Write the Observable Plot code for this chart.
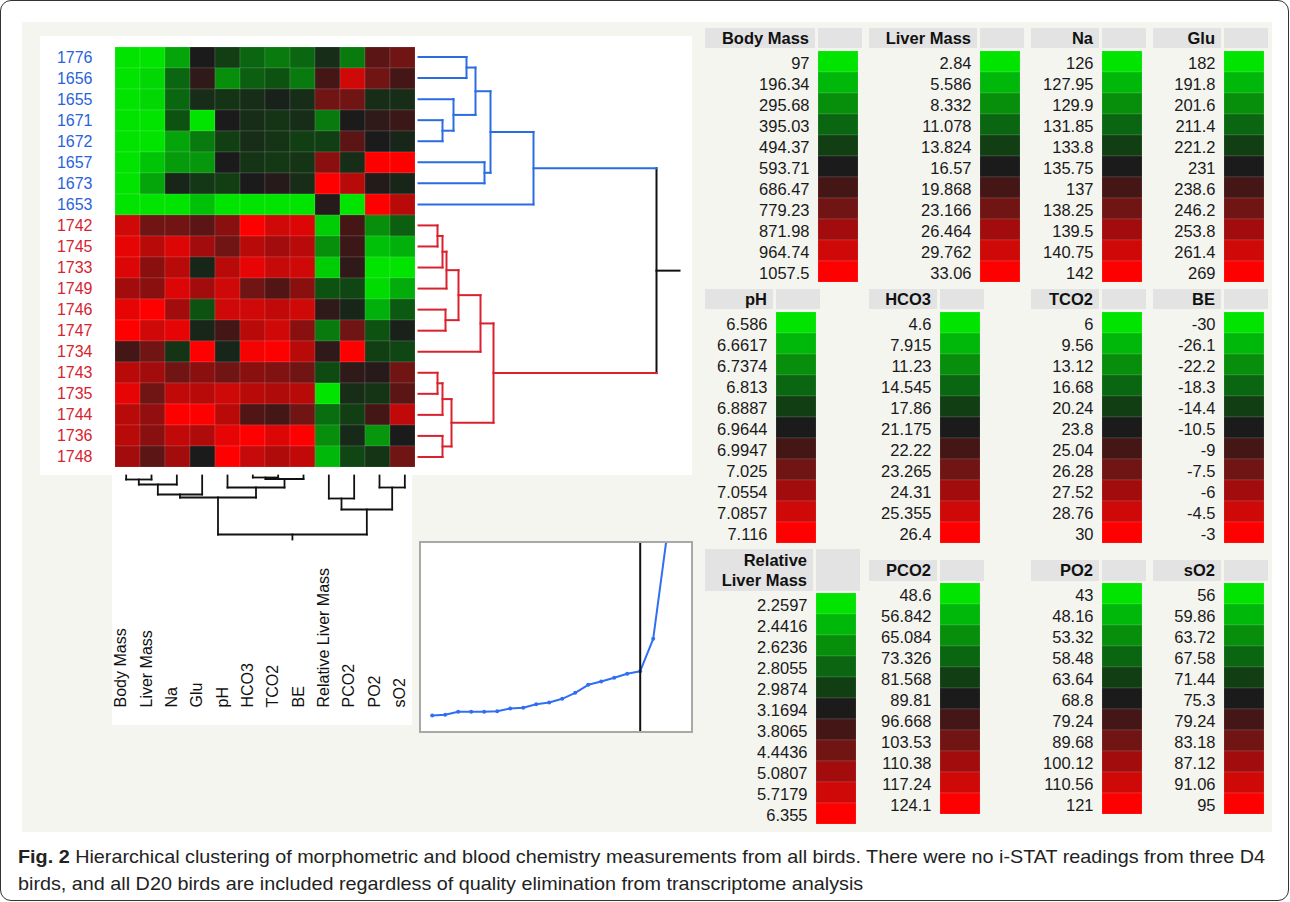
<!DOCTYPE html>
<html><head><meta charset="utf-8">
<script src="https://cdn.jsdelivr.net/npm/d3@7"></script>
<script src="https://cdn.jsdelivr.net/npm/@observablehq/plot@0.6"></script>
<style>
body{margin:0;background:#fff;font-family:"Liberation Sans",Arial,sans-serif;}
#root{position:relative;width:1290px;height:902px;overflow:hidden;}
.hdr{position:absolute;background:#e3e3e3;font-weight:bold;font-size:16.5px;color:#111;text-align:right;box-sizing:border-box;padding-right:6px;}
.cap{position:absolute;left:18px;white-space:nowrap;font-family:"Liberation Sans Narrow","Liberation Sans",Arial,sans-serif;font-size:19px;color:#222;transform-origin:0 0;}
</style></head><body><div id="root"></div>
<script>
// ---------------- data ----------------
const blueBirds = ["1776","1656","1655","1671","1672","1657","1673","1653"];
const redBirds = ["1742","1745","1733","1749","1746","1747","1734","1743","1735","1744","1736","1748"];
const birds = [...blueBirds, ...redBirds];
const variables = ["Body Mass","Liver Mass","Na","Glu","pH","HCO3","TCO2","BE","Relative Liver Mass","PCO2","PO2","sO2"];
// colour level (0 = min/green, 5 = black, 10 = max/red), one row per bird, one column per variable
const heatLevels = [
  [0,0,1.5,5,4,3,2.5,3,4.5,2.5,6.5,7],
  [0,0.3,3,5.5,2,3.2,3.5,2.5,6,9,7,6],
  [0,0.3,3,4.5,4.3,4.5,4.8,4.5,7,7,4.5,4.5],
  [0,0,3.5,0,5,4.5,4.3,4.5,2.5,5,5.5,5.8],
  [0,0,1.5,2.5,4,4.5,4.3,4,4,6.5,5,4.7],
  [0,0.7,1.7,1.8,5,4.3,4.2,4.3,7.5,4.5,10,10],
  [0,1.5,4.7,4.2,4,5,5.3,4.5,10,8.5,5.2,4.7],
  [0,0,0,0.8,0,0,0,0,5.3,0,10,8.5],
  [9,7,7,6.5,7.5,10,9,9.3,0.5,6,2,3.2],
  [9.5,8.5,9.3,8,7,8.5,8,8.5,2,5.8,0.8,1.2],
  [9.3,7.5,8.5,4.7,8.5,9.5,8.8,9,0.5,5.5,0,0],
  [8,7.5,9.3,8,9,7,6.3,7.5,3.5,3.8,0.2,1.3],
  [9.5,10,8,3.5,9,9,8.7,9,5.5,4.7,1.2,3.3],
  [10,9,9.5,4.7,6,8.5,9,7.5,2.5,7,3.5,4.8],
  [6,7,4.3,10,4.7,9.8,10,8.5,5.5,10,4,3.8],
  [8.5,8,7,7.5,7,7.5,7.3,7,3.7,5.5,5.3,7],
  [9.5,7,8.7,8.5,9,8.5,8.3,8.5,0,4.5,4.3,6.5],
  [8.5,7.7,10,10,8.5,6.3,6,7,2.8,4,6,8.7],
  [8.5,7.5,8.7,8.3,9.5,10,9.3,10,2,4.6,1.8,5],
  [8,6.5,8,5,10,8.8,8.3,8.7,1,3.8,4.3,7]
];
// row clustering: [childA, childB, merge height]; "nK" = K-th merge
const rowLinkage = [
  ["1671","1672",24],["1655","n0",35],["1776","1656",48],["n2","n1",57],
  ["1657","1673",66],["n3","n4",72],["n5","1653",115],
  ["1742","1745",19],["n7","1733",24],["n8","1749",28],["1746","1747",27],
  ["n9","n10",40],["n11","1734",62],["1743","1735",19],["n13","1744",24],
  ["1736","1748",24],["n14","n15",33],["n12","n16",75],["n6","n17",238]
];
const rowRootStub = 261;
// column clustering
const colLinkage = [
  ["HCO3","TCO2",2],["n0","BE",3.5],["Body Mass","Liver Mass",4],["n2","Na",9],
  ["pH","n1",12],["PO2","sO2",12],["n3","Glu",19],["n6","n4",22],
  ["Relative Liver Mass","PCO2",23],["n8","n5",34],["n7","n9",59]
];
const colRootStub = 64;
// merge distance by step (inset plot)
const mergeDistance = [14,14.7,17.7,17.7,17.7,18.3,21,21.7,25.3,27,30.7,36.7,44.7,48,51.7,55.7,58.3,90.7,188];
const cutStep = 16;
// legend tick labels
const bodyMassTicks = ["97","196.34","295.68","395.03","494.37","593.71","686.47","779.23","871.98","964.74","1057.5"];
const liverMassTicks = ["2.84","5.586","8.332","11.078","13.824","16.57","19.868","23.166","26.464","29.762","33.06"];
const naTicks = ["126","127.95","129.9","131.85","133.8","135.75","137","138.25","139.5","140.75","142"];
const gluTicks = ["182","191.8","201.6","211.4","221.2","231","238.6","246.2","253.8","261.4","269"];
const phTicks = ["6.586","6.6617","6.7374","6.813","6.8887","6.9644","6.9947","7.025","7.0554","7.0857","7.116"];
const hco3Ticks = ["4.6","7.915","11.23","14.545","17.86","21.175","22.22","23.265","24.31","25.355","26.4"];
const tco2Ticks = ["6","9.56","13.12","16.68","20.24","23.8","25.04","26.28","27.52","28.76","30"];
const beTicks = ["-30","-26.1","-22.2","-18.3","-14.4","-10.5","-9","-7.5","-6","-4.5","-3"];
const rlmTicks = ["2.2597","2.4416","2.6236","2.8055","2.9874","3.1694","3.8065","4.4436","5.0807","5.7179","6.355"];
const pco2Ticks = ["48.6","56.842","65.084","73.326","81.568","89.81","96.668","103.53","110.38","117.24","124.1"];
const po2Ticks = ["43","48.16","53.32","58.48","63.64","68.8","79.24","89.68","100.12","110.56","121"];
const so2Ticks = ["56","59.86","63.72","67.58","71.44","75.3","79.24","83.18","87.12","91.06","95"];
const legendTicks = [bodyMassTicks,liverMassTicks,naTicks,gluTicks,phTicks,hco3Ticks,tco2Ticks,beTicks,rlmTicks,pco2Ticks,po2Ticks,so2Ticks];
const legendTitles = ["Body Mass","Liver Mass","Na","Glu","pH","HCO3","TCO2","BE","Relative<br>Liver Mass","PCO2","PO2","sO2"];

// ---------------- styles ----------------
const levelColors = ["#00e400","#00b80a","#078f0c","#0a6610","#123e14","#1b1b1b","#441616","#711414","#a20c0c","#cf0808","#ff0000"];
const BLUE = "#2a62d9", RED = "#d62430", DBLUE = "#2b6ce0", DRED = "#d9222e";
const colorScale = {type:"linear", domain: d3.range(11), range: levelColors, interpolate:"rgb"};
const baseStyle = {fontFamily:"Liberation Sans, Arial, sans-serif", background:"transparent", overflow:"visible"};

const root = document.getElementById("root");
function box(left, top, w, h, css) {
  const d = document.createElement("div");
  d.style.cssText = `position:absolute;left:${left}px;top:${top}px;width:${w}px;height:${h}px;` + (css||"");
  root.appendChild(d); return d;
}
function place(el, left, top) {
  el.style.position = "absolute"; el.style.left = left + "px"; el.style.top = top + "px";
  root.appendChild(el); return el;
}

// panels
box(0, 0, 1287, 899, "border:1.5px solid #333;border-radius:11px;");
box(22, 22, 1250, 810, "background:#f5f5f0;");
box(40, 36, 652, 439, "background:#fff;");
box(112, 475, 300, 250, "background:#fff;");

// ---------------- heatmap ----------------
const cells = [];
birds.forEach((b, i) => variables.forEach((v, j) => cells.push({bird: b, variable: v, level: heatLevels[i][j]})));
place(Plot.plot({
  width: 380, height: 440, marginLeft: 73, marginRight: 3, marginTop: 11, marginBottom: 8,
  x: {domain: variables, padding: 0, axis: null},
  y: {domain: birds, padding: 0, axis: null},
  color: colorScale, style: baseStyle,
  marks: [
    Plot.cell(cells, {x: "variable", y: "bird", fill: "level", stroke: "#ffffff", strokeOpacity: 0.12}),
    Plot.text(blueBirds, {y: d => d, text: d => d, frameAnchor: "left", textAnchor: "end", dx: -21, fill: BLUE, fontSize: 16}),
    Plot.text(redBirds, {y: d => d, text: d => d, frameAnchor: "left", textAnchor: "end", dx: -21, fill: RED, fontSize: 16})
  ]
}), 40, 35);

// ---------------- dendrogram helper ----------------
function dendroSegments(leaves, linkage, stubTo, groupOf) {
  const nodes = new Map();
  leaves.forEach((l, i) => nodes.set(l, {p: i, h: 0, set: [l]}));
  let last;
  linkage.forEach(([a, b, h], k) => {
    const A = nodes.get(a), B = nodes.get(b);
    last = {p: (A.p + B.p) / 2, h, set: [...A.set, ...B.set], kids: [A, B]};
    nodes.set("n" + k, last);
  });
  const segs = [];
  for (const N of nodes.values()) {
    if (!N.kids) continue;
    const [A, B] = N.kids;
    segs.push({h1: N.h, p1: A.p, h2: N.h, p2: B.p, g: groupOf(N.set)});
    for (const K of N.kids) segs.push({h1: K.h, p1: K.p, h2: N.h, p2: K.p, g: groupOf(K.set)});
  }
  segs.push({h1: last.h, p1: last.p, h2: stubTo, p2: last.p, g: "root"});
  return segs;
}

// row dendrogram
const rowSegs = dendroSegments(birds, rowLinkage, rowRootStub, set =>
  set.every(s => blueBirds.includes(s)) ? "c1" : set.every(s => redBirds.includes(s)) ? "c2" : "root");
place(Plot.plot({
  width: 270, height: 440, marginLeft: 0, marginRight: 9, marginTop: 11, marginBottom: 8,
  x: {domain: [0, 261], axis: null},
  y: {domain: [-0.5, birds.length - 0.5], reverse: true, axis: null},
  color: {domain: ["c1", "c2", "root"], range: [DBLUE, DRED, "#111"]},
  style: baseStyle,
  marks: [Plot.link(rowSegs, {x1: "h1", y1: "p1", x2: "h2", y2: "p2", stroke: "g", strokeWidth: 2, strokeLinecap: "square"})]
}), 418, 35);

// column dendrogram + labels
const colSegs = dendroSegments(variables, colLinkage, colRootStub, () => "k");
place(Plot.plot({
  width: 304, height: 245, marginLeft: 0, marginRight: 0, marginTop: 0, marginBottom: 5,
  x: {domain: [-0.5, variables.length - 0.5], range: [0, 304], axis: null},
  y: {domain: [0, 64], range: [8, 72], axis: null},
  style: baseStyle,
  marks: [
    Plot.link(colSegs, {x1: "p1", y1: "h1", x2: "p2", y2: "h2", stroke: "#111", strokeWidth: 1.8, strokeLinecap: "square"}),
    Plot.text(variables, {x: (d, i) => i, text: d => d, frameAnchor: "bottom", rotate: -90, textAnchor: "start", fontSize: 16, fill: "#111"})
  ]
}), 113, 467);

// ---------------- inset: merge distance ----------------
const steps = mergeDistance.map((v, i) => ({step: i, v}));
const inset = Plot.plot({
  width: 270, height: 188, margin: 0,
  x: {domain: [0, 18], range: [10.7, 244.7], axis: null},
  y: {domain: [0, 186], range: [186, 0], axis: null},
  style: {...baseStyle, background: "#fff", border: "2px solid #a8a8a8", overflow: "hidden"},
  marks: [
    Plot.line(steps, {x: "step", y: "v", stroke: "#2f6ff2", strokeWidth: 2, clip: true}),
    Plot.dot(steps, {x: "step", y: "v", r: 2, fill: "#2f6ff2", clip: true}),
    Plot.ruleX([cutStep], {stroke: "#111", strokeWidth: 2})
  ]
});
place(inset, 419, 541);

// ---------------- legend tables ----------------
const colStart = [705, 869, 1031, 1153];
const swatchRow = [
  [818, 980, 1102, 1224],
  [776, 940, 1102, 1224],
  [816, 940, 1102, 1224]
];
const hdrTop = [28, 289, 560], hdrH = [20, 20, 21];
const swTop = [50, 311, 583], rowH = [21.1, 21.1, 21];
legendTicks.forEach((ticks, i) => {
  const r = Math.floor(i / 4), c = i % 4;
  const sx = swatchRow[r][c], x0 = colStart[c];
  let top = swTop[r], ht = hdrTop[r], hh = hdrH[r];
  if (i === 8) { top = 593; ht = 549; hh = 42; }
  const h = box(x0, ht, sx - 3 - x0, hh, "");
  h.className = "hdr";
  h.style.lineHeight = (i === 8 ? 20 : hh) + "px";
  if (i === 8) h.style.paddingTop = "1px";
  h.innerHTML = legendTitles[i];
  box(sx, ht, 44, hh, "background:#e3e3e3;");
  const lv = d3.range(11);
  place(Plot.plot({
    width: sx + 40 - x0, height: Math.round(11 * rowH[r]),
    marginLeft: sx - x0, marginRight: 0, marginTop: 0, marginBottom: 0,
    y: {domain: lv, padding: 0, axis: null},
    color: colorScale, style: baseStyle,
    marks: [
      Plot.cell(lv, {y: d => d, fill: d => d, stroke: "#ffffff", strokeOpacity: 0.12}),
      Plot.text(lv, {y: d => d, text: d => ticks[d], frameAnchor: "left", textAnchor: "end", dx: -9, dy: 1.5, fontSize: 16.5, fill: "#1a1a1a"})
    ]
  }), x0, top);
});

// ---------------- caption ----------------
const c1 = box(18, 846, null, 26, "");
c1.className = "cap"; c1.style.width = "auto";
c1.innerHTML = "<b>Fig. 2</b> Hierarchical clustering of morphometric and blood chemistry measurements from all birds. There were no i-STAT readings from three D4";
const c2 = box(18, 873, null, 26, "");
c2.className = "cap"; c2.style.width = "auto";
c2.textContent = "birds, and all D20 birds are included regardless of quality elimination from transcriptome analysis";
const k = 1247 / c1.getBoundingClientRect().width;
c1.style.transform = `scaleX(${k})`;
c2.style.transform = `scaleX(${k})`;
</script></body></html>
